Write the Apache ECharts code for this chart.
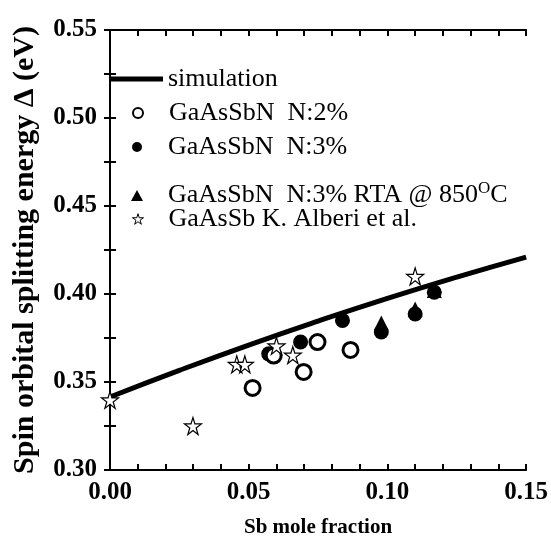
<!DOCTYPE html>
<html>
<head>
<meta charset="utf-8">
<script src="https://cdn.jsdelivr.net/npm/echarts@6/dist/echarts.min.js"></script>
<style>
  html, body { margin: 0; padding: 0; background: #fff; }
  #chart { width: 551px; height: 544px; }
</style>
</head>
<body>
<div id="chart"></div>
<script>
// values
const simX = [0, 0.025, 0.05, 0.075, 0.1, 0.125, 0.15];
const simY = [0.3415, 0.3566, 0.3710, 0.3846, 0.3975, 0.4096, 0.4210];

const n2X = [0.0514, 0.0590, 0.0698, 0.0748, 0.0867];
const n2Y = [0.3466, 0.3650, 0.3557, 0.3727, 0.3682];

const n3X = [0.0572, 0.0687, 0.0838, 0.0978, 0.1100, 0.1169];
const n3Y = [0.3660, 0.3727, 0.3850, 0.3784, 0.3886, 0.4010];

const rtaX = [0.0978, 0.1100, 0.1169];
const rtaY = [0.3835, 0.3915, 0.4020];

const alberiX = [0.0, 0.0299, 0.0457, 0.0486, 0.0600, 0.0659, 0.1100];
const alberiY = [0.3398, 0.3250, 0.3600, 0.3600, 0.3705, 0.3653, 0.4100];

const xTicks = [0.00, 0.05, 0.10, 0.15];
const yTicks = [0.30, 0.35, 0.40, 0.45, 0.50, 0.55];

const names = [
  "simulation",
  "GaAsSbN  N:2%",
  "GaAsSbN  N:3%",
  "GaAsSbN  N:3% RTA @ 850OC",
  "GaAsSb K. Alberi et al."
];

const pairs = (xs, ys) => xs.map((x, i) => [x, ys[i]]);
const font = "'Liberation Serif', 'Times New Roman', serif";
const star = "path://M50,0 L61,35 L98,35 L68,57 L79,92 L50,70 L21,92 L32,57 L2,35 L39,35 Z";

const axisLine = { lineStyle: { color: "#000", width: 2 } };
const tick = { inside: true, length: 6, lineStyle: { color: "#000", width: 2 } };

function xAxisOf(pos, showLabel) {
  return {
    type: "value",
    position: pos,
    min: xTicks[0],
    max: xTicks[xTicks.length - 1],
    interval: 0.05,
    axisLine: axisLine,
    axisTick: tick,
    minorTick: { show: true, splitNumber: 5, length: 6, lineStyle: { color: "#000", width: 2 } },
    splitLine: { show: false },
    axisLabel: {
      show: showLabel,
      margin: 10,
      color: "#000",
      fontFamily: font,
      fontWeight: "bold",
      fontSize: 25,
      formatter: v => v.toFixed(2)
    }
  };
}

function yAxisOf(pos, showLabel) {
  return {
    type: "value",
    position: pos,
    min: yTicks[0],
    max: yTicks[yTicks.length - 1],
    interval: 0.05,
    axisLine: axisLine,
    axisTick: tick,
    minorTick: { show: true, splitNumber: 2, length: 6, lineStyle: { color: "#000", width: 2 } },
    splitLine: { show: false },
    axisLabel: {
      show: showLabel,
      margin: 13,
      color: "#000",
      fontFamily: font,
      fontWeight: "bold",
      fontSize: 25,
      formatter: v => v.toFixed(2)
    }
  };
}

const xMain = xAxisOf("bottom", true);
xMain.name = "Sb mole fraction";
xMain.nameLocation = "middle";
xMain.nameGap = 47;
xMain.nameTextStyle = { color: "#000", fontFamily: font, fontWeight: "bold", fontSize: 21 };

const yMain = yAxisOf("left", true);
yMain.name = "Spin orbital splitting energy \u0394 (eV)";
yMain.nameLocation = "middle";
yMain.nameGap = 70;
yMain.nameTextStyle = { color: "#000", fontFamily: font, fontWeight: "bold", fontSize: 30 };

// one legend per entry so each row sits where it does in the picture
function legendAt(top, left, item, w, h, padLeft) {
  return {
    left: left,
    top: top,
    padding: 0,
    itemWidth: w,
    itemHeight: h,
    itemGap: 0,
    selectedMode: false,
    data: [item],
    textStyle: {
      color: "#000",
      fontFamily: font,
      fontSize: 26,
      padding: [0, 0, 0, padLeft],
      rich: {
        a: { color: "#000", fontFamily: font, fontSize: 26 },
        sup: { color: "#000", fontFamily: font, fontSize: 17, padding: [0, 0, 14, 0] }
      }
    },
    formatter: name => {
      if (name.endsWith("OC")) {
        return "{a|" + name.slice(0, -2) + "}{sup|O}{a|C}";
      }
      return name;
    }
  };
}

const option = {
  animation: false,
  backgroundColor: "#fff",
  grid: { left: 110, right: 24, top: 30, bottom: 74, containLabel: false },
  xAxis: [xMain, xAxisOf("top", false)],
  yAxis: [yMain, yAxisOf("right", false)],
  legend: [
    legendAt(66, 110, { name: names[0], icon: "rect", itemStyle: { color: "#000" } }, 53, 5, 0),
    legendAt(100, 132, { name: names[1], icon: "circle", itemStyle: { color: "#fff", borderColor: "#000", borderWidth: 2 } }, 10, 10, 21),
    legendAt(134, 132, { name: names[2], icon: "circle", itemStyle: { color: "#000" } }, 10, 10, 21),
    legendAt(180, 131, { name: names[3], icon: "triangle", itemStyle: { color: "#000" } }, 12, 11, 20),
    legendAt(206, 132, { name: names[4], icon: star, itemStyle: { color: "#fff", borderColor: "#000", borderWidth: 1 } }, 11, 11, 20)
  ],
  series: [
    {
      name: names[0],
      type: "line",
      data: pairs(simX, simY),
      smooth: true,
      showSymbol: false,
      symbol: "none",
      lineStyle: { color: "#000", width: 5 },
      z: 3
    },
    {
      name: names[1],
      type: "scatter",
      data: pairs(n2X, n2Y),
      symbol: "circle",
      symbolSize: 15,
      itemStyle: { color: "#fff", borderColor: "#000", borderWidth: 3, opacity: 1 },
      z: 4
    },
    {
      name: names[2],
      type: "scatter",
      data: pairs(n3X, n3Y),
      symbol: "circle",
      symbolSize: 15,
      itemStyle: { color: "#000", opacity: 1 },
      z: 3
    },
    {
      name: names[3],
      type: "scatter",
      data: pairs(rtaX, rtaY),
      symbol: "triangle",
      symbolSize: 15,
      itemStyle: { color: "#000", opacity: 1 },
      z: 3
    },
    {
      name: names[4],
      type: "scatter",
      data: pairs(alberiX, alberiY),
      symbol: star,
      symbolSize: 17,
      itemStyle: { color: "#fff", borderColor: "#000", borderWidth: 1.2, opacity: 1 },
      z: 5
    }
  ]
};

const chart = echarts.init(document.getElementById("chart"));
chart.setOption(option);
</script>
</body>
</html>
